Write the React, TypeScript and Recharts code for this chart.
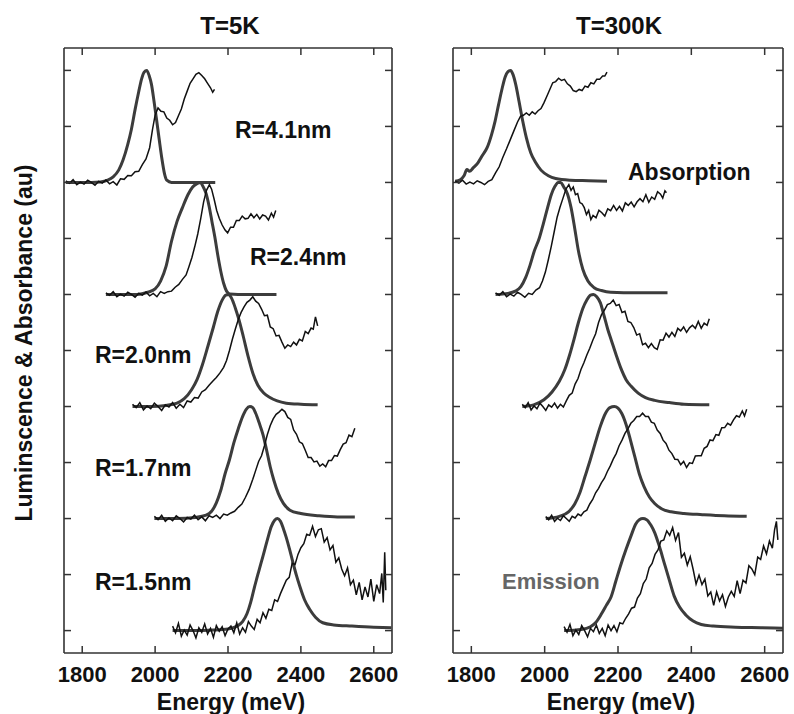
import { Line, LineChart, XAxis, YAxis } from "recharts";

type Pt = [number, number];

// energy axis (meV) and the stacked offsets (au)
const energyTicks = [1800, 2000, 2200, 2400, 2600];
const offsetTicks = [0, 1, 2, 3, 4, 5, 6, 7, 8, 9, 10];
const energyDomain = [1750, 2650];
const offsetDomain = [-0.4, 10.4];

const panelTitles = ["T=5K", "T=300K"];
const sizeLabels = ["R=4.1nm", "R=2.4nm", "R=2.0nm", "R=1.7nm", "R=1.5nm"];

// ---- T = 5K ----
const em5K_41: Pt[] = [[1755, 8.0],[1800, 8.0],[1850, 8.01],[1870, 8.04],[1885, 8.1],[1900, 8.22],[1912, 8.4],[1925, 8.68],[1935, 8.95],[1945, 9.3],[1955, 9.62],[1963, 9.85],[1970, 9.97],[1977, 10.0],[1984, 9.9],[1990, 9.75],[1997, 9.45],[2004, 9.12],[2011, 8.78],[2018, 8.45],[2026, 8.15],[2032, 8.04],[2045, 8.0],[2100, 8.0],[2165, 8.0]];
const abs5K_41: Pt[] = [[1755, 8.03],[1765, 7.985],[1775, 8.05],[1785, 7.96],[1795, 8.005],[1805, 7.97],[1815, 8.04],[1825, 8.0],[1835, 7.95],[1845, 8.02],[1855, 7.99],[1865, 8.045],[1875, 7.975],[1885, 8.015],[1895, 7.955],[1905, 8.065],[1915, 8.055],[1925, 8.125],[1935, 8.12],[1945, 8.19],[1955, 8.2],[1965, 8.32],[1975, 8.42],[1985, 8.62],[1993, 8.95],[2000, 9.2],[2008, 9.33],[2016, 9.27],[2024, 9.26],[2032, 9.15],[2040, 9.11],[2048, 9.03],[2056, 9.07],[2064, 9.19],[2072, 9.31],[2080, 9.49],[2088, 9.63],[2096, 9.77],[2104, 9.85],[2112, 9.93],[2120, 9.96],[2128, 9.91],[2136, 9.85],[2144, 9.77],[2152, 9.69],[2158, 9.61],[2163, 9.66]];

const em5K_24: Pt[] = [[1865, 6.0],[1950, 6.0],[1980, 6.04],[2000, 6.1],[2015, 6.24],[2030, 6.5],[2045, 6.95],[2060, 7.3],[2075, 7.55],[2090, 7.78],[2103, 7.92],[2115, 7.98],[2124, 8.0],[2132, 7.92],[2140, 7.8],[2148, 7.58],[2156, 7.3],[2164, 7.02],[2172, 6.7],[2180, 6.42],[2188, 6.2],[2196, 6.06],[2205, 6.01],[2250, 6.0],[2333, 6.0]];
const abs5K_24: Pt[] = [[1865, 6.03],[1875, 5.985],[1885, 6.05],[1895, 5.96],[1905, 6.005],[1915, 5.97],[1925, 6.04],[1935, 6.0],[1945, 5.95],[1955, 6.02],[1965, 5.99],[1975, 6.045],[1985, 5.975],[1995, 6.02],[2005, 5.96],[2015, 6.05],[2025, 6.02],[2035, 6.05],[2045, 6.06],[2055, 6.13],[2065, 6.18],[2075, 6.27],[2085, 6.35],[2093, 6.5],[2101, 6.66],[2109, 6.86],[2117, 7.08],[2125, 7.35],[2133, 7.65],[2141, 7.86],[2149, 7.96],[2155, 7.88],[2162, 7.7],[2169, 7.5],[2176, 7.36],[2184, 7.24],[2192, 7.15],[2199, 7.1],[2207, 7.2],[2215, 7.2],[2223, 7.32],[2231, 7.32],[2239, 7.4],[2247, 7.35],[2255, 7.36],[2263, 7.44],[2271, 7.37],[2279, 7.43],[2287, 7.35],[2295, 7.42],[2303, 7.4],[2311, 7.33],[2319, 7.45],[2325, 7.38],[2331, 7.5]];

const em5K_20: Pt[] = [[1938, 4.0],[1990, 4.0],[2030, 4.02],[2060, 4.06],[2080, 4.14],[2100, 4.3],[2115, 4.48],[2130, 4.75],[2145, 5.08],[2160, 5.42],[2172, 5.7],[2184, 5.9],[2194, 5.99],[2202, 6.0],[2210, 5.93],[2220, 5.76],[2230, 5.55],[2242, 5.25],[2255, 4.9],[2268, 4.6],[2282, 4.38],[2298, 4.24],[2315, 4.16],[2335, 4.1],[2360, 4.06],[2400, 4.04],[2446, 4.03]];
const abs5K_20: Pt[] = [[1938, 4.04],[1948, 3.98],[1958, 4.07],[1968, 3.94],[1978, 4.01],[1988, 3.96],[1998, 4.06],[2008, 4.0],[2018, 3.93],[2028, 4.03],[2038, 3.99],[2048, 4.07],[2058, 3.97],[2068, 4.04],[2078, 3.98],[2088, 4.1],[2098, 4.08],[2108, 4.16],[2118, 4.15],[2128, 4.26],[2138, 4.3],[2148, 4.38],[2158, 4.45],[2168, 4.52],[2178, 4.6],[2188, 4.7],[2196, 4.82],[2204, 5.0],[2212, 5.2],[2220, 5.38],[2228, 5.55],[2236, 5.68],[2244, 5.78],[2252, 5.86],[2260, 5.9],[2268, 5.96],[2276, 5.88],[2284, 5.84],[2292, 5.74],[2300, 5.62],[2308, 5.63],[2316, 5.42],[2324, 5.39],[2332, 5.26],[2340, 5.27],[2348, 5.15],[2356, 5.04],[2364, 5.1],[2372, 5.07],[2380, 5.15],[2388, 5.1],[2396, 5.2],[2404, 5.17],[2412, 5.34],[2420, 5.3],[2428, 5.4],[2434, 5.38],[2440, 5.6],[2446, 5.44]];

const em5K_17: Pt[] = [[1998, 2.0],[2060, 2.0],[2110, 2.02],[2140, 2.06],[2155, 2.13],[2168, 2.28],[2180, 2.5],[2192, 2.8],[2204, 3.05],[2216, 3.35],[2228, 3.6],[2240, 3.82],[2250, 3.95],[2260, 4.0],[2268, 3.98],[2276, 3.88],[2286, 3.7],[2296, 3.5],[2306, 3.22],[2316, 2.92],[2326, 2.68],[2338, 2.45],[2352, 2.27],[2370, 2.15],[2400, 2.09],[2450, 2.05],[2500, 2.03],[2548, 2.03]];
const abs5K_17: Pt[] = [[1998, 2.04],[2008, 1.98],[2018, 2.06],[2028, 1.95],[2038, 2.01],[2048, 1.96],[2058, 2.05],[2068, 2.0],[2078, 1.94],[2088, 2.02],[2098, 1.99],[2108, 2.06],[2118, 1.98],[2128, 2.03],[2138, 1.96],[2148, 2.05],[2158, 2.02],[2168, 2.06],[2178, 2.0],[2188, 2.08],[2198, 2.06],[2208, 2.1],[2218, 2.13],[2228, 2.2],[2238, 2.26],[2248, 2.38],[2258, 2.52],[2268, 2.7],[2276, 2.86],[2284, 3.02],[2292, 3.12],[2300, 3.3],[2308, 3.5],[2316, 3.66],[2324, 3.78],[2332, 3.86],[2340, 3.9],[2348, 3.95],[2356, 3.91],[2364, 3.805],[2372, 3.77],[2380, 3.58],[2388, 3.505],[2396, 3.37],[2404, 3.34],[2412, 3.22],[2420, 3.09],[2428, 3.09],[2436, 3.01],[2444, 3.025],[2452, 2.935],[2460, 2.975],[2468, 2.925],[2476, 3.035],[2484, 3.035],[2492, 3.125],[2500, 3.115],[2508, 3.23],[2516, 3.33],[2524, 3.355],[2532, 3.49],[2540, 3.46],[2548, 3.61]];

const em5K_15: Pt[] = [[2048, 0.0],[2100, 0.0],[2160, 0.01],[2200, 0.03],[2225, 0.08],[2240, 0.16],[2252, 0.3],[2262, 0.5],[2272, 0.76],[2284, 1.05],[2296, 1.33],[2308, 1.62],[2319, 1.86],[2328, 1.97],[2336, 2.0],[2344, 1.95],[2352, 1.82],[2360, 1.66],[2369, 1.45],[2378, 1.22],[2388, 0.98],[2397, 0.79],[2410, 0.55],[2424, 0.38],[2440, 0.24],[2460, 0.14],[2490, 0.1],[2540, 0.08],[2600, 0.06],[2648, 0.05]];
const abs5K_15: Pt[] = [[2048, 0.08],[2056, -0.04],[2064, 0.13],[2072, -0.1],[2080, 0.01],[2088, -0.08],[2096, 0.1],[2104, 0.0],[2112, -0.13],[2120, 0.05],[2128, -0.03],[2136, 0.12],[2144, -0.06],[2152, 0.04],[2160, -0.12],[2168, 0.09],[2176, -0.01],[2184, 0.07],[2192, -0.09],[2200, 0.03],[2208, 0.08],[2216, -0.04],[2224, 0.14],[2232, -0.06],[2240, 0.05],[2248, -0.03],[2256, 0.16],[2264, 0.08],[2272, 0.02],[2280, 0.2],[2288, 0.14],[2296, 0.32],[2304, 0.22],[2312, 0.38],[2320, 0.36],[2328, 0.55],[2336, 0.52],[2344, 0.66],[2352, 0.78],[2360, 0.9],[2368, 0.95],[2376, 1.2],[2384, 1.18],[2392, 1.36],[2400, 1.48],[2408, 1.55],[2416, 1.72],[2424, 1.7],[2432, 1.86],[2440, 1.68],[2448, 1.8],[2456, 1.82],[2464, 1.58],[2472, 1.66],[2480, 1.44],[2488, 1.52],[2496, 1.22],[2504, 1.3],[2512, 1.1],[2520, 0.98],[2528, 1.12],[2536, 0.82],[2544, 0.9],[2552, 0.64],[2560, 0.86],[2568, 0.55],[2576, 0.78],[2584, 0.6],[2592, 0.92],[2600, 0.52],[2608, 0.82],[2616, 0.66],[2622, 1.02],[2626, 0.5],[2630, 1.4],[2633, 0.72]];

// ---- T = 300K ----
const em300K_41: Pt[] = [[1756, 8.02],[1770, 8.05],[1780, 8.12],[1788, 8.23],[1795, 8.2],[1805, 8.26],[1818, 8.35],[1830, 8.48],[1843, 8.62],[1855, 8.85],[1865, 9.1],[1874, 9.38],[1883, 9.65],[1892, 9.88],[1900, 9.98],[1907, 10.0],[1914, 9.92],[1921, 9.75],[1930, 9.45],[1940, 9.1],[1950, 8.8],[1962, 8.53],[1975, 8.36],[1990, 8.22],[2010, 8.12],[2030, 8.07],[2070, 8.04],[2120, 8.03],[2170, 8.02]];
const abs300K_41: Pt[] = [[1756, 8.025],[1766, 7.99],[1776, 8.04],[1786, 7.97],[1796, 8.005],[1806, 7.975],[1816, 8.03],[1826, 8.0],[1836, 7.96],[1846, 8.02],[1856, 8.05],[1866, 8.17],[1876, 8.28],[1886, 8.45],[1896, 8.6],[1906, 8.76],[1916, 8.92],[1926, 9.08],[1934, 9.18],[1942, 9.2],[1950, 9.24],[1958, 9.2],[1966, 9.26],[1974, 9.22],[1982, 9.28],[1990, 9.32],[1998, 9.42],[2006, 9.54],[2014, 9.66],[2022, 9.78],[2030, 9.8],[2038, 9.86],[2046, 9.82],[2054, 9.84],[2062, 9.76],[2070, 9.72],[2078, 9.64],[2086, 9.62],[2094, 9.66],[2102, 9.64],[2110, 9.72],[2118, 9.7],[2126, 9.78],[2134, 9.76],[2142, 9.84],[2150, 9.84],[2158, 9.9],[2164, 9.9],[2170, 9.97]];

const em300K_24: Pt[] = [[1866, 6.0],[1900, 6.02],[1920, 6.06],[1935, 6.14],[1948, 6.3],[1960, 6.52],[1972, 6.78],[1985, 7.0],[1997, 7.28],[2008, 7.55],[2018, 7.78],[2028, 7.93],[2037, 8.0],[2044, 8.0],[2052, 7.92],[2062, 7.8],[2072, 7.55],[2082, 7.18],[2092, 6.78],[2104, 6.45],[2118, 6.24],[2135, 6.12],[2155, 6.07],[2180, 6.04],[2250, 6.03],[2335, 6.03]];
const abs300K_24: Pt[] = [[1866, 6.03],[1876, 5.985],[1886, 6.05],[1896, 5.96],[1906, 6.005],[1916, 5.97],[1926, 6.04],[1936, 6.0],[1946, 5.95],[1956, 6.02],[1966, 6.0],[1976, 6.08],[1986, 6.12],[1994, 6.24],[2002, 6.4],[2010, 6.62],[2018, 6.86],[2026, 7.12],[2034, 7.38],[2042, 7.56],[2050, 7.72],[2058, 7.88],[2066, 7.96],[2072, 7.86],[2078, 7.92],[2084, 7.78],[2090, 7.8],[2096, 7.64],[2102, 7.62],[2108, 7.55],[2114, 7.425],[2120, 7.5],[2126, 7.335],[2132, 7.41],[2140, 7.37],[2148, 7.505],[2156, 7.46],[2164, 7.4],[2172, 7.53],[2180, 7.495],[2188, 7.59],[2196, 7.5],[2204, 7.575],[2212, 7.49],[2220, 7.635],[2228, 7.59],[2236, 7.65],[2244, 7.565],[2252, 7.655],[2260, 7.71],[2268, 7.655],[2276, 7.78],[2284, 7.645],[2292, 7.74],[2300, 7.7],[2308, 7.835],[2316, 7.79],[2322, 7.72],[2328, 7.85],[2332, 7.815]];

const em300K_20: Pt[] = [[1939, 4.0],[1970, 4.03],[1998, 4.12],[2020, 4.26],[2040, 4.45],[2055, 4.66],[2068, 4.92],[2080, 5.2],[2092, 5.5],[2104, 5.75],[2115, 5.9],[2125, 5.99],[2133, 6.0],[2142, 5.96],[2152, 5.85],[2162, 5.62],[2172, 5.38],[2182, 5.18],[2195, 4.92],[2208, 4.68],[2222, 4.48],[2236, 4.36],[2255, 4.24],[2275, 4.16],[2300, 4.11],[2340, 4.07],[2380, 4.04],[2449, 4.03]];
const abs300K_20: Pt[] = [[1939, 4.04],[1947, 3.98],[1955, 4.07],[1963, 3.94],[1971, 4.01],[1979, 3.96],[1987, 4.06],[1995, 4.0],[2003, 3.93],[2011, 4.03],[2019, 3.99],[2027, 4.06],[2035, 3.97],[2043, 4.04],[2051, 3.99],[2059, 4.1],[2067, 4.2],[2075, 4.24],[2083, 4.4],[2091, 4.5],[2099, 4.66],[2107, 4.78],[2115, 4.92],[2123, 5.04],[2131, 5.18],[2139, 5.3],[2147, 5.5],[2155, 5.64],[2163, 5.72],[2171, 5.82],[2179, 5.84],[2187, 5.9],[2195, 5.8],[2203, 5.82],[2211, 5.68],[2219, 5.7],[2227, 5.52],[2235, 5.5],[2243, 5.41],[2251, 5.275],[2259, 5.3],[2267, 5.105],[2275, 5.13],[2283, 5.05],[2291, 5.125],[2299, 5.05],[2307, 5.02],[2315, 5.19],[2323, 5.185],[2331, 5.31],[2339, 5.24],[2347, 5.325],[2355, 5.25],[2363, 5.395],[2371, 5.35],[2379, 5.42],[2387, 5.325],[2395, 5.405],[2403, 5.45],[2411, 5.395],[2419, 5.52],[2427, 5.395],[2435, 5.49],[2443, 5.45],[2449, 5.565]];

const em300K_17: Pt[] = [[2003, 2.0],[2040, 2.04],[2065, 2.12],[2082, 2.26],[2096, 2.46],[2110, 2.75],[2124, 3.04],[2138, 3.35],[2152, 3.65],[2166, 3.88],[2178, 3.98],[2190, 4.0],[2200, 3.97],[2210, 3.88],[2222, 3.68],[2234, 3.4],[2246, 3.1],[2258, 2.8],[2271, 2.57],[2286, 2.38],[2300, 2.27],[2320, 2.17],[2345, 2.12],[2380, 2.09],[2430, 2.07],[2490, 2.05],[2551, 2.04]];
const abs300K_17: Pt[] = [[2003, 2.035],[2011, 1.98],[2019, 2.06],[2027, 1.95],[2035, 2.005],[2043, 1.965],[2051, 2.05],[2059, 2.0],[2067, 1.95],[2075, 2.04],[2083, 2.01],[2091, 2.08],[2099, 2.05],[2107, 2.12],[2115, 2.15],[2123, 2.26],[2131, 2.34],[2139, 2.46],[2147, 2.54],[2155, 2.64],[2163, 2.72],[2171, 2.84],[2179, 2.94],[2187, 3.06],[2195, 3.16],[2203, 3.3],[2211, 3.4],[2219, 3.52],[2227, 3.6],[2235, 3.7],[2243, 3.75],[2251, 3.82],[2259, 3.82],[2267, 3.88],[2275, 3.82],[2283, 3.82],[2291, 3.72],[2299, 3.7],[2307, 3.58],[2315, 3.52],[2323, 3.4],[2331, 3.34],[2339, 3.22],[2347, 3.16],[2355, 3.06],[2363, 3.056],[2371, 2.962],[2379, 3.02],[2387, 2.912],[2395, 2.996],[2403, 2.984],[2411, 3.118],[2419, 3.12],[2427, 3.12],[2435, 3.254],[2443, 3.288],[2451, 3.404],[2459, 3.39],[2467, 3.498],[2475, 3.486],[2483, 3.622],[2491, 3.624],[2499, 3.7],[2507, 3.668],[2515, 3.762],[2523, 3.836],[2531, 3.812],[2539, 3.92],[2545, 3.832],[2551, 3.95]];

const em300K_15: Pt[] = [[2053, 0.0],[2100, 0.02],[2125, 0.07],[2140, 0.15],[2155, 0.3],[2168, 0.45],[2181, 0.6],[2194, 0.88],[2208, 1.18],[2222, 1.45],[2236, 1.7],[2248, 1.9],[2258, 1.98],[2268, 2.0],[2278, 1.98],[2290, 1.88],[2300, 1.75],[2313, 1.5],[2326, 1.21],[2340, 0.9],[2353, 0.62],[2368, 0.42],[2385, 0.28],[2405, 0.17],[2427, 0.11],[2460, 0.08],[2520, 0.06],[2590, 0.05],[2650, 0.04]];
const abs300K_15: Pt[] = [[2053, 0.07],[2061, -0.03],[2069, 0.11],[2077, -0.09],[2085, 0.01],[2093, -0.07],[2101, 0.09],[2109, 0.0],[2117, -0.11],[2125, 0.04],[2133, -0.02],[2141, 0.1],[2149, -0.05],[2157, 0.04],[2165, -0.09],[2173, 0.1],[2181, 0.0],[2189, 0.09],[2197, -0.02],[2205, 0.14],[2213, 0.12],[2221, 0.22],[2229, 0.3],[2237, 0.4],[2245, 0.42],[2253, 0.58],[2261, 0.66],[2269, 0.84],[2277, 0.92],[2285, 1.12],[2293, 1.2],[2301, 1.36],[2309, 1.44],[2317, 1.6],[2325, 1.62],[2333, 1.78],[2341, 1.7],[2349, 1.84],[2357, 1.61],[2365, 1.75],[2373, 1.31],[2381, 1.38],[2389, 1.17],[2397, 1.32],[2405, 1.09],[2413, 0.83],[2421, 0.99],[2429, 0.82],[2437, 0.92],[2445, 0.62],[2453, 0.69],[2461, 0.45],[2469, 0.69],[2477, 0.53],[2485, 0.64],[2493, 0.43],[2501, 0.6],[2509, 0.7],[2517, 0.61],[2525, 0.89],[2533, 0.66],[2541, 0.9],[2549, 0.85],[2557, 1.16],[2565, 1.1],[2573, 1.0],[2581, 1.31],[2589, 1.27],[2597, 1.51],[2605, 1.37],[2613, 1.6],[2621, 1.47],[2627, 1.8],[2632, 1.95],[2636, 1.62]];

const emission5K = [em5K_41, em5K_24, em5K_20, em5K_17, em5K_15];
const absorption5K = [abs5K_41, abs5K_24, abs5K_20, abs5K_17, abs5K_15];
const emission300K = [em300K_41, em300K_24, em300K_20, em300K_17, em300K_15];
const absorption300K = [abs300K_41, abs300K_24, abs300K_20, abs300K_17, abs300K_15];

const FONT = '"Liberation Sans", Arial, Helvetica, sans-serif';
const FRAME = "#333";
const TICK_LEN = 7;

const toRows = (pts: Pt[]) => pts.map(([e, v]) => ({ e, v }));

// inward tick marks on all four sides, labels only on the bottom
const bottomTick = (p: any) => (
  <g>
    <line x1={p.x} y1={p.y} x2={p.x} y2={p.y - TICK_LEN} stroke={FRAME} strokeWidth={1.5} />
    <text x={p.x} y={p.y + 21} textAnchor="middle" dominantBaseline="central"
      fontFamily={FONT} fontWeight="bold" fontSize={22} fill="#111">
      {p.payload.value}
    </text>
  </g>
);
const topTick = (p: any) => (
  <line x1={p.x} y1={p.y} x2={p.x} y2={p.y + TICK_LEN} stroke={FRAME} strokeWidth={1.5} />
);
const leftTick = (p: any) => (
  <line x1={p.x} y1={p.y} x2={p.x + TICK_LEN} y2={p.y} stroke={FRAME} strokeWidth={1.5} />
);
const rightTick = (p: any) => (
  <line x1={p.x} y1={p.y} x2={p.x - TICK_LEN} y2={p.y} stroke={FRAME} strokeWidth={1.5} />
);

interface PanelProps {
  left: number;
  width: number;
  marginLeft: number;
  rightAxisWidth: number;
  emission: Pt[][];
  absorption: Pt[][];
}

function Panel({ left, width, marginLeft, rightAxisWidth, emission, absorption }: PanelProps) {
  const axisLine = { stroke: FRAME, strokeWidth: 1.6 };
  return (
    <div style={{ position: "absolute", left, top: 0 }}>
      <LineChart width={width} height={714} margin={{ top: 38, right: 0, bottom: 0, left: marginLeft }}>
        <XAxis xAxisId="b" dataKey="e" type="number" domain={energyDomain} ticks={energyTicks}
          allowDataOverflow height={61} tickSize={0} tickMargin={0} tickLine={false}
          axisLine={axisLine} tick={bottomTick} interval={0} />
        <XAxis xAxisId="t" orientation="top" dataKey="e" type="number" domain={energyDomain}
          ticks={energyTicks} allowDataOverflow height={10} tickSize={0} tickMargin={0}
          tickLine={false} axisLine={axisLine} tick={topTick} interval={0} />
        <YAxis yAxisId="l" type="number" domain={offsetDomain} ticks={offsetTicks} allowDataOverflow
          width={10} tickSize={0} tickMargin={0} tickLine={false} axisLine={axisLine}
          tick={leftTick} interval={0} />
        <YAxis yAxisId="r" orientation="right" type="number" domain={offsetDomain} ticks={offsetTicks}
          allowDataOverflow width={rightAxisWidth} tickSize={0} tickMargin={0} tickLine={false}
          axisLine={axisLine} tick={rightTick} interval={0} />
        {emission.map((pts, i) => (
          <Line key={`em${i}`} xAxisId="b" yAxisId="l" data={toRows(pts)} dataKey="v"
            type="monotone" stroke="#3c3c3c" strokeWidth={3} dot={false}
            isAnimationActive={false} />
        ))}
        {absorption.map((pts, i) => (
          <Line key={`ab${i}`} xAxisId="b" yAxisId="l" data={toRows(pts)} dataKey="v"
            type="linear" stroke="#111" strokeWidth={1.5} dot={false}
            isAnimationActive={false} />
        ))}
      </LineChart>
    </div>
  );
}

const labelStyle = { fontFamily: FONT, fontWeight: "bold" as const, fill: "#111" };

export default function App() {
  return (
    <div style={{ position: "absolute", left: 0, top: 0, width: 794, height: 714, background: "#fff", overflow: "hidden" }}>
      <Panel left={0} width={400} marginLeft={54} rightAxisWidth={8}
        emission={emission5K} absorption={absorption5K} />
      <Panel left={400} width={394} marginLeft={43} rightAxisWidth={11}
        emission={emission300K} absorption={absorption300K} />
      <svg width={794} height={714} style={{ position: "absolute", left: 0, top: 0, pointerEvents: "none" }}>
        <text x={230} y={25} textAnchor="middle" dominantBaseline="central" fontSize={24} {...labelStyle}>{panelTitles[0]}</text>
        <text x={619} y={25} textAnchor="middle" dominantBaseline="central" fontSize={24} {...labelStyle}>{panelTitles[1]}</text>
        <text x={0} y={0} transform="translate(24 343) rotate(-90)" textAnchor="middle" dominantBaseline="central" fontSize={23} {...labelStyle}>
          Luminscence &amp; Absorbance (au)
        </text>
        <text x={231} y={702} textAnchor="middle" dominantBaseline="central" fontSize={23} {...labelStyle}>Energy (meV)</text>
        <text x={621} y={702} textAnchor="middle" dominantBaseline="central" fontSize={23} {...labelStyle}>Energy (meV)</text>
        <text x={235} y={130} dominantBaseline="central" fontSize={23} {...labelStyle}>{sizeLabels[0]}</text>
        <text x={250} y={257} dominantBaseline="central" fontSize={23} {...labelStyle}>{sizeLabels[1]}</text>
        <text x={95} y={355} dominantBaseline="central" fontSize={23} {...labelStyle}>{sizeLabels[2]}</text>
        <text x={95} y={468} dominantBaseline="central" fontSize={23} {...labelStyle}>{sizeLabels[3]}</text>
        <text x={95} y={582} dominantBaseline="central" fontSize={23} {...labelStyle}>{sizeLabels[4]}</text>
        <text x={628} y={172} dominantBaseline="central" fontSize={23} {...labelStyle}>Absorption</text>
        <text x={502} y={581} dominantBaseline="central" fontSize={22} fontFamily={FONT} fontWeight="bold" fill="#666">Emission</text>
      </svg>
    </div>
  );
}
